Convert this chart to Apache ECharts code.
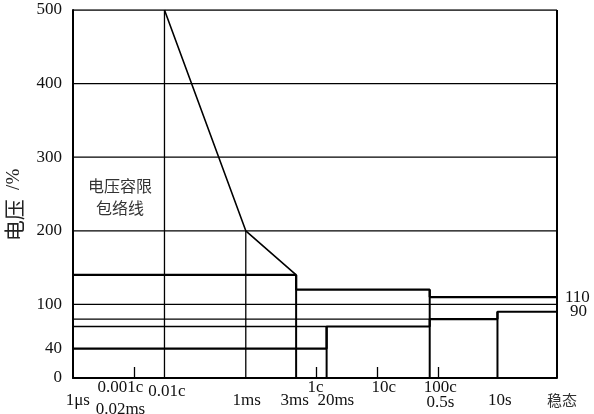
<!DOCTYPE html>
<html>
<head>
<meta charset="utf-8">
<title>电压容限包络线</title>
<script src="https://cdn.jsdelivr.net/npm/echarts@6/dist/echarts.min.js"></script>
<style>
	html, body { margin: 0; padding: 0; background: #fff; }
	#main { width: 594px; height: 414px; }
</style>
</head>
<body>
<div id="main"></div>
<script>
// 横轴是示意刻度（非线性），0~100 对应左边界到“稳态”
var upperSlopeX = [18.9, 35.7, 46.1];      // 0.01c, 1ms, 3ms
var upperSlopeY = [500, 200, 140];
var upperStepX = [0, 46.1, 73.7, 100];     // 上限阶梯
var upperStepY = [140, 120, 110, 110];
var lowerStepX = [0, 52.4, 73.7, 87.7, 100]; // 下限阶梯
var lowerStepY = [40, 70, 80, 90, 90];
var dropX = [18.9, 35.7, 46.1, 52.4, 73.7, 87.7, 100]; // 竖线
var dropTop = [500, 200, 140, 70, 120, 90, 500];
var dropThick = [false, false, true, true, true, true, true];
var gridY = [70, 80, 100, 200, 300, 400, 500]; // 横线
var gridEnd = [52.4, 73.7, 100, 100, 100, 100, 100];
var minorTickX = [12.7, 50.3, 62.9, 75.5];  // 0.001c, 1c, 10c, 100c 小刻度
var yTickLabels = [0, 40, 100, 200, 300, 400, 500];
var xLabelPos = [1.0, 9.8, 19.4, 35.9, 45.8, 50.1, 54.3, 64.2, 75.9, 88.2, 100];
var xLabelText = ['{b|1μs}', '{a|0.001c}\n{d|0.02ms}', '{c|0.01c}', '{b|1ms}', '{b|3ms}', '{a|1c}',
	'{b|20ms}', '{a|10c}', '{a|100c}\n{e|0.5s}', '{b|10s}', '{f|稳态}'];

var serif = "'Liberation Serif', 'Times New Roman', serif";
var cjk = "'Noto Sans CJK SC', sans-serif";
var lineColor = '#000';

var series = [];
// 网格横线
for (var i = 0; i < gridY.length; i++) {
	series.push({
		type: 'line', silent: true, showSymbol: false,
		data: [[0, gridY[i]], [gridEnd[i], gridY[i]]],
		lineStyle: { color: lineColor, width: 1.3 }
	});
}
// 竖线
for (var j = 0; j < dropX.length; j++) {
	series.push({
		type: 'line', silent: true, showSymbol: false,
		data: [[dropX[j], 0], [dropX[j], dropTop[j]]],
		lineStyle: { color: lineColor, width: dropThick[j] ? 2 : 1.3 }
	});
}
// 上限斜线
series.push({
	type: 'line', silent: true, showSymbol: false,
	data: upperSlopeX.map(function (x, k) { return [x, upperSlopeY[k]]; }),
	lineStyle: { color: lineColor, width: 1.6 }
});
// 上限阶梯
series.push({
	type: 'line', silent: true, showSymbol: false, step: 'end',
	data: upperStepX.map(function (x, k) { return [x, upperStepY[k]]; }),
	lineStyle: { color: lineColor, width: 2.2 },
	endLabel: { show: true, formatter: '110', distance: 8, fontFamily: serif, fontSize: 17, color: '#111' }
});
// 下限阶梯
series.push({
	type: 'line', silent: true, showSymbol: false, step: 'end',
	data: lowerStepX.map(function (x, k) { return [x, lowerStepY[k]]; }),
	lineStyle: { color: lineColor, width: 2.2 },
	endLabel: { show: true, formatter: '90', distance: 13, fontFamily: serif, fontSize: 17, color: '#111' }
});

var myChart = echarts.init(document.getElementById('main'));
var option = {
	animation: false,
	grid: { left: 73, right: 37, top: 10, bottom: 36, outerBoundsMode: 'none' },
	xAxis: {
		type: 'value', min: 0, max: 100,
		splitLine: { show: false },
		axisLine: { show: true, lineStyle: { color: lineColor, width: 2 } },
		axisTick: {
			show: true, inside: true, length: 11,
			customValues: minorTickX,
			lineStyle: { color: lineColor, width: 1.3 }
		},
		axisLabel: {
			show: true, margin: 3,
			customValues: xLabelPos,
			formatter: function (v) {
				var idx = xLabelPos.indexOf(v);
				return idx >= 0 ? xLabelText[idx] : '';
			},
			rich: {
				a: { fontFamily: serif, fontSize: 17, color: '#111', lineHeight: 14 },
				b: { fontFamily: serif, fontSize: 17, color: '#111', lineHeight: 16, padding: [24, 0, 0, 0] },
				c: { fontFamily: serif, fontSize: 17, color: '#111', lineHeight: 16, padding: [5, 0, 0, 0] },
				d: { fontFamily: serif, fontSize: 17, color: '#111', lineHeight: 16, padding: [13, 0, 0, 0] },
				e: { fontFamily: serif, fontSize: 17, color: '#111', lineHeight: 16 },
				f: { fontFamily: cjk, fontSize: 15, color: '#333', lineHeight: 16, padding: [23, 0, 0, 10] }
			}
		}
	},
	yAxis: {
		type: 'value', min: 0, max: 500,
		name: '{c|电压} {s|/%}',
		nameLocation: 'middle', nameRotate: 90, nameGap: 48,
		nameTextStyle: {
			padding: [0, 22, 0, 0],
			rich: {
				c: { fontFamily: cjk, fontSize: 21, color: '#222' },
				s: { fontFamily: serif, fontSize: 19, color: '#222', padding: [0, 0, 0, 6] }
			}
		},
		splitLine: { show: false },
		axisLine: { show: true, lineStyle: { color: lineColor, width: 2 } },
		axisTick: { show: false },
		axisLabel: {
			customValues: yTickLabels,
			margin: 11,
			fontFamily: serif, fontSize: 17, color: '#111'
		}
	},
	graphic: [{
		type: 'text', x: 120, y: 175,
		style: {
			text: '电压容限\n包络线', fontFamily: cjk, fontSize: 16, lineHeight: 22,
			fill: '#333', align: 'center'
		}
	}],
	series: series
};
myChart.setOption(option);
</script>
</body>
</html>
